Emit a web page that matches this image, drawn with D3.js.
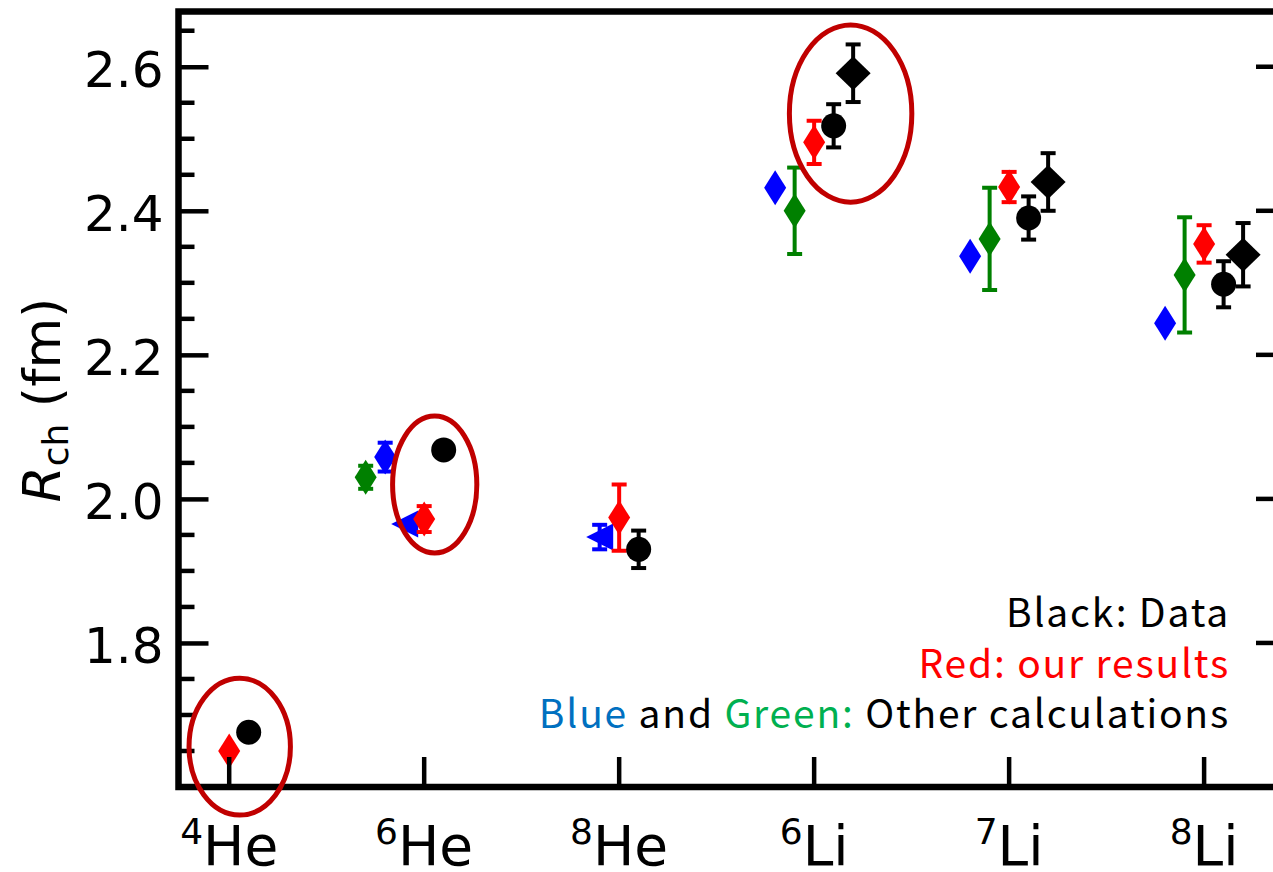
<!DOCTYPE html>
<html>
<head>
<meta charset="utf-8">
<script src="https://cdn.jsdelivr.net/npm/d3@7"></script>
<style>
  body { margin: 0; background: #fff; }
  svg { display: block; }
</style>
</head>
<body>
<div id="chart"></div>
<script>
// isotopes along the x axis
const massNumbers = ["4", "6", "8", "6", "7", "8"];
const elements = ["He", "He", "He", "Li", "Li", "Li"];

const yTicks = [1.8, 2.0, 2.2, 2.4, 2.6];
const yMinorTicks = [1.65, 1.70, 1.75, 1.85, 1.90, 1.95, 2.05, 2.10, 2.15,
                     2.25, 2.30, 2.35, 2.45, 2.50, 2.55, 2.65];

// Black: data
const dataCircle = [1.676, 2.068, 1.930, 2.518, 2.390, 2.298];
const dataCircleErr = [0, 0, 0.026, 0.030, 0.030, 0.032];
const dataDiamond = [null, null, null, 2.591, 2.440, 2.339];
const dataDiamondErr = [0, 0, 0, 0.040, 0.040, 0.044];

// Red: our results
const ourResults = [1.650, 1.972, 1.974, 2.495, 2.433, 2.354];
const ourResultsErr = [0, 0.018, 0.046, 0.030, 0.021, 0.026];

// Blue and Green: other calculations
const blueDiamond = [null, 2.058, null, 2.432, 2.337, 2.244];
const blueDiamondErr = [0, 0.020, 0, 0, 0, 0];
const blueTriangle = [null, 1.965, 1.947, null, null, null];
const blueTriangleErr = [0, 0, 0.017, 0, 0, 0];
const greenDiamond = [null, 2.030, null, 2.400, 2.361, 2.311];
const greenDiamondErr = [0, 0.016, 0, 0.060, 0.071, 0.080];
const greenShift = [0, -0.3, 0, -0.1, -0.1, -0.1];

// circled points: centre (category units, fm) and half axes
const ringX = [0.054, 1.054, 3.187];
const ringY = [1.656, 2.020, 2.535];
const ringRx = [0.26, 0.216, 0.314];
const ringRy = [0.095, 0.095, 0.123];

const W = 1273, H = 872;
const x = d3.scaleLinear().domain([-0.26, 5.42]).range([178.5, 1286]);
const y = d3.scaleLinear().domain([1.6, 2.6767]).range([787, 11.5]);

const svg = d3.select("#chart").append("svg")
    .attr("width", W).attr("height", H)
    .attr("viewBox", `0 0 ${W} ${H}`);

/**
 * marker outline centred on 0,0
 */
function markerPath(shape) {
    if (shape === "circle") {
        const r = 12.5;
        return `M${-r},0A${r},${r} 0 1,0 ${r},0A${r},${r} 0 1,0 ${-r},0Z`;
    }
    if (shape === "thin") return "M0,-17.5L11,0L0,17.5L-11,0Z";
    if (shape === "diamond") return "M0,-17L17.5,0L0,17L-17.5,0Z";
    if (shape === "left") return "M-13.5,0L13.5,-13.5L13.5,13.5Z";
    return "";
}

function series(values, errs, shift, shape, color) {
    return values.map((v, i) => ({
        v: v, e: errs[i],
        xv: i + (Array.isArray(shift) ? shift[i] : shift),
        shape: shape, color: color
    })).filter(d => d.v !== null);
}

const allSeries = [
    series(blueTriangle, blueTriangleErr, -0.1, "left", "#0000ff"),
    series(blueDiamond, blueDiamondErr, -0.2, "thin", "#0000ff"),
    series(greenDiamond, greenDiamondErr, greenShift, "thin", "#008000"),
    series(ourResults, ourResultsErr, 0, "thin", "#ff0000"),
    series(dataCircle, dataCircleErr, 0.1, "circle", "#000000"),
    series(dataDiamond, dataDiamondErr, 0.2, "diamond", "#000000")
];

const plot = svg.append("g").attr("class", "points");

allSeries.forEach(pts => {
    const g = plot.append("g");
    const withErr = pts.filter(d => d.e > 0);
    // error bars
    g.selectAll("line.bar").data(withErr).join("line")
        .attr("x1", d => x(d.xv)).attr("x2", d => x(d.xv))
        .attr("y1", d => y(d.v - d.e)).attr("y2", d => y(d.v + d.e))
        .attr("stroke", d => d.color).attr("stroke-width", 4);
    [-1, 1].forEach(sgn => {
        g.selectAll("line.cap" + (sgn > 0 ? "t" : "b")).data(withErr).join("line")
            .attr("x1", d => x(d.xv) - 7.5).attr("x2", d => x(d.xv) + 7.5)
            .attr("y1", d => y(d.v + sgn * d.e)).attr("y2", d => y(d.v + sgn * d.e))
            .attr("stroke", d => d.color).attr("stroke-width", 4);
    });
    g.selectAll("path").data(pts).join("path")
        .attr("d", d => markerPath(d.shape))
        .attr("transform", d => `translate(${x(d.xv)},${y(d.v)})`)
        .attr("fill", d => d.color);
});

// frame
svg.append("rect")
    .attr("x", x.range()[0]).attr("y", y.range()[1])
    .attr("width", x.range()[1] - x.range()[0])
    .attr("height", y.range()[0] - y.range()[1])
    .attr("fill", "none").attr("stroke", "#000").attr("stroke-width", 6.5);

// y axis, ticks pointing in
const yAxis = svg.append("g")
    .attr("transform", `translate(${x.range()[0]},0)`)
    .call(d3.axisLeft(y).tickValues(yTicks).tickSize(-30).tickPadding(15)
        .tickFormat(d3.format(".1f")));
yAxis.select(".domain").remove();
yAxis.selectAll(".tick line").attr("stroke-width", 4.5);
yAxis.selectAll(".tick text")
    .attr("dy", "0.4em")
    .style("font-family", "'DejaVu Sans', sans-serif")
    .style("font-size", "50px").attr("fill", "#000");

svg.append("g").selectAll("line").data(yMinorTicks).join("line")
    .attr("x1", x.range()[0]).attr("x2", x.range()[0] + 16)
    .attr("y1", d => y(d)).attr("y2", d => y(d))
    .attr("stroke", "#000").attr("stroke-width", 4.5);

// mirrored ticks on the right
svg.append("g").selectAll("line").data(yTicks).join("line")
    .attr("x1", x.range()[1]).attr("x2", x.range()[1] - 30)
    .attr("y1", d => y(d)).attr("y2", d => y(d))
    .attr("stroke", "#000").attr("stroke-width", 4.5);

// x axis ticks
svg.append("g").selectAll("line").data(elements).join("line")
    .attr("x1", (d, i) => x(i)).attr("x2", (d, i) => x(i))
    .attr("y1", y.range()[0]).attr("y2", y.range()[0] - 30)
    .attr("stroke", "#000").attr("stroke-width", 4.5);

const xLabels = svg.append("g").selectAll("text").data(elements).join("text")
    .attr("x", (d, i) => x(i)).attr("y", 865)
    .attr("text-anchor", "middle")
    .style("font-family", "'DejaVu Sans', sans-serif")
    .style("font-size", "55px");
xLabels.append("tspan")
    .attr("font-size", "36px").attr("dy", "-21")
    .text((d, i) => massNumbers[i]);
xLabels.append("tspan").attr("dy", "21").text(d => d);

// y label
const yLabel = svg.append("text")
    .attr("transform", "translate(60,400) rotate(-90)")
    .attr("text-anchor", "middle")
    .style("font-family", "'DejaVu Sans', sans-serif")
    .style("font-size", "52px");
yLabel.append("tspan").attr("font-style", "italic").text("R");
yLabel.append("tspan").attr("font-size", "36px").attr("dy", 8).text("ch");
yLabel.append("tspan").attr("dy", -8).text(" (fm)");

// circled points
svg.append("g").selectAll("ellipse").data(ringX).join("ellipse")
    .attr("cx", d => x(d))
    .attr("cy", (d, i) => y(ringY[i]))
    .attr("rx", (d, i) => x(ringRx[i]) - x(0))
    .attr("ry", (d, i) => y(0) - y(ringRy[i]))
    .attr("fill", "none").attr("stroke", "#c00000").attr("stroke-width", 5);

// legend text
const legendFont = "'Noto Sans CJK JP', 'Noto Sans', sans-serif";
const legendLines = [
    [["Black: Data", "#000000"]],
    [["Red: our results", "#ff0000"]],
    [["Blue", "#0070c0"], [" and ", "#000000"], ["Green:", "#00b050"], [" Other calculations", "#000000"]]
];
const legendBase = [627, 678, 728];
legendLines.forEach((parts, i) => {
    const t = svg.append("text")
        .attr("x", 1230).attr("y", legendBase[i])
        .attr("text-anchor", "end")
        .style("font-family", legendFont)
        .style("font-size", "39px")
        .style("letter-spacing", "1.8px");
    parts.forEach(p => t.append("tspan").attr("fill", p[1]).text(p[0]));
});
</script>
</body>
</html>
